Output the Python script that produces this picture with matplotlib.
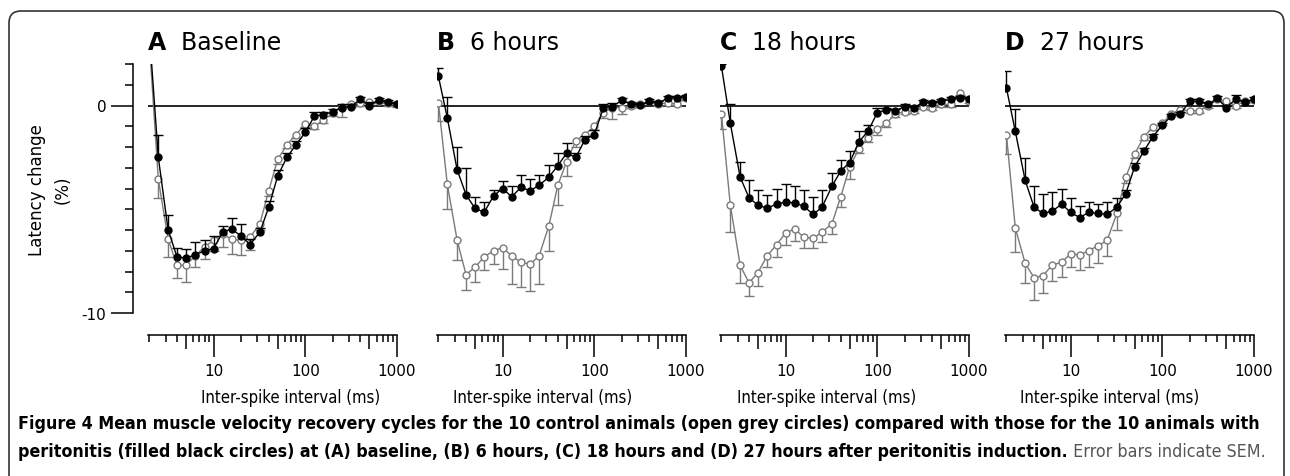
import numpy as np
import matplotlib
matplotlib.use("Agg")
import matplotlib.pyplot as plt
from matplotlib import font_manager
from matplotlib.font_manager import FontProperties
from matplotlib.patches import FancyBboxPatch
from matplotlib.transforms import IdentityTransform
from matplotlib.ticker import FixedLocator, NullFormatter

# inter-spike intervals (ms), about 10 per decade
intervals = [2, 2.5, 3.2, 4, 5, 6.3, 8, 10, 12.6, 15.8, 20, 25, 32, 40, 50,
             63, 79, 100, 126, 158, 200, 251, 316, 398, 500, 631, 794, 1000]

panel_letters = ["A", "B", "C", "D"]
panel_titles = ["Baseline", "6 hours", "18 hours", "27 hours"]

# peritonitis animals (filled black), mean and SEM, latency change %
perit_A = [3.5, -2.5, -6.0, -7.3, -7.35, -7.2, -7.0, -6.9, -6.1, -5.95, -6.3, -6.7, -6.1, -4.9,
           -3.4, -2.5, -1.9, -1.3, -0.5, -0.45, -0.3, -0.1, -0.05, 0.3, 0.0, 0.25, 0.15, 0.05]
perit_A_sem = [0.3, 1.1, 0.7, 0.45, 0.45, 0.6, 0.5, 0.6, 0.3, 0.55, 0.6, 0.25, 0.2, 0.3,
               0.3, 0.2, 0.2, 0.2, 0.2, 0.15, 0.15, 0.15, 0.1, 0.1, 0.15, 0.1, 0.1, 0.1]
perit_B = [1.4, -0.6, -3.1, -4.3, -4.95, -5.15, -4.35, -4.0, -4.4, -3.95, -4.1, -3.85, -3.45, -2.9,
           -2.3, -2.5, -1.65, -1.4, -0.1, -0.05, 0.25, 0.08, 0.02, 0.2, 0.12, 0.35, 0.38, 0.4]
perit_B_sem = [0.4, 1.0, 1.1, 1.3, 0.55, 0.5, 0.3, 0.35, 0.5, 0.6, 0.55, 0.5, 0.6, 0.6,
               0.5, 0.2, 0.2, 0.2, 0.15, 0.15, 0.1, 0.1, 0.1, 0.1, 0.1, 0.1, 0.1, 0.1]
perit_C = [1.9, -0.85, -3.45, -4.45, -4.8, -4.95, -4.75, -4.65, -4.7, -4.85, -5.25, -4.9, -3.9, -3.15,
           -2.75, -1.75, -1.25, -0.35, -0.2, -0.25, -0.05, -0.1, 0.15, 0.1, 0.2, 0.3, 0.35, 0.3]
perit_C_sem = [0.1, 0.9, 0.75, 0.85, 0.75, 0.65, 0.75, 0.85, 0.8, 0.8, 0.85, 0.85, 0.65, 0.5,
               0.55, 0.5, 0.3, 0.25, 0.1, 0.1, 0.1, 0.1, 0.1, 0.1, 0.1, 0.1, 0.1, 0.1]
perit_D = [0.85, -1.25, -3.6, -4.9, -5.2, -5.1, -4.75, -5.15, -5.4, -5.15, -5.2, -5.25, -4.9, -4.25,
           -2.95, -2.2, -1.5, -0.95, -0.5, -0.4, 0.2, 0.2, 0.05, 0.35, -0.1, 0.3, 0.15, 0.3]
perit_D_sem = [0.8, 1.1, 1.05, 1.0, 0.95, 0.95, 0.75, 0.7, 0.55, 0.5, 0.45, 0.6, 0.45, 0.2,
               0.2, 0.15, 0.15, 0.1, 0.1, 0.1, 0.1, 0.1, 0.1, 0.1, 0.1, 0.2, 0.1, 0.1]

# control animals (open grey), mean and SEM
ctrl_A = [3.0, -3.55, -6.45, -7.7, -7.7, -7.25, -6.8, -6.5, -6.2, -6.45, -6.5, -6.35, -5.7, -4.1,
          -2.6, -1.9, -1.4, -0.9, -1.0, -0.7, -0.35, -0.05, 0.05, 0.1, 0.15, 0.2, 0.1, 0.05]
ctrl_A_sem = [0.3, 0.9, 0.85, 0.6, 0.8, 0.55, 0.6, 0.5, 0.6, 0.7, 0.7, 0.6, 0.3, 0.25,
              0.2, 0.15, 0.15, 0.15, 0.15, 0.15, 0.15, 0.5, 0.1, 0.1, 0.1, 0.1, 0.1, 0.1]
ctrl_B = [0.13, -3.8, -6.5, -8.15, -7.8, -7.3, -7.0, -6.85, -7.25, -7.55, -7.65, -7.25, -5.8, -3.85,
          -2.7, -1.7, -1.4, -1.0, -0.35, -0.1, -0.1, -0.03, 0.05, 0.2, 0.08, 0.13, 0.08, 0.35]
ctrl_B_sem = [0.9, 1.2, 0.95, 0.75, 0.7, 0.65, 0.65, 1.05, 1.35, 1.2, 1.3, 1.35, 1.2, 0.95,
              0.7, 0.3, 0.2, 0.2, 0.25, 0.55, 0.3, 0.1, 0.1, 0.1, 0.1, 0.1, 0.1, 0.1]
ctrl_C = [-0.4, -4.8, -7.7, -8.55, -8.05, -7.25, -6.7, -6.15, -5.95, -6.35, -6.4, -6.1, -5.7, -4.4,
          -2.95, -2.1, -1.55, -1.15, -0.85, -0.4, -0.3, -0.25, -0.05, -0.1, 0.05, 0.05, 0.6, 0.2]
ctrl_C_sem = [0.75, 1.3, 0.85, 0.65, 0.65, 0.55, 0.6, 0.55, 0.6, 0.5, 0.45, 0.5, 0.5, 0.5,
              0.6, 0.2, 0.2, 0.25, 0.2, 0.15, 0.1, 0.1, 0.1, 0.1, 0.1, 0.1, 0.1, 0.1]
ctrl_D = [-1.4, -5.9, -7.6, -8.3, -8.2, -7.7, -7.55, -7.15, -7.2, -7.0, -6.75, -6.5, -5.2, -3.45,
          -2.35, -1.5, -1.05, -0.85, -0.4, -0.2, -0.25, -0.25, 0.0, 0.3, 0.2, 0.0, 0.2, 0.25]
ctrl_D_sem = [0.95, 1.15, 0.95, 1.05, 0.85, 0.75, 0.7, 0.65, 0.75, 0.8, 0.85, 0.75, 0.8, 0.3,
              0.2, 0.15, 0.15, 0.1, 0.1, 0.1, 0.1, 0.1, 0.1, 0.1, 0.1, 0.1, 0.1, 0.1]

perit = [(perit_A, perit_A_sem), (perit_B, perit_B_sem), (perit_C, perit_C_sem), (perit_D, perit_D_sem)]
ctrl = [(ctrl_A, ctrl_A_sem), (ctrl_B, ctrl_B_sem), (ctrl_C, ctrl_C_sem), (ctrl_D, ctrl_D_sem)]

caption_line1 = ("Figure 4 Mean muscle velocity recovery cycles for the 10 control animals "
                 "(open grey circles) compared with those for the 10 animals with")
caption_line2 = ("peritonitis (filled black circles) at (A) baseline, (B) 6 hours, "
                 "(C) 18 hours and (D) 27 hours after peritonitis induction.")
caption_tail = " Error bars indicate SEM."

W, H = 1290, 477
GREY = "#7a7a7a"

plt.rcParams["font.family"] = "DejaVu Sans"
fig = plt.figure(figsize=(W / 100, H / 100), dpi=100)


def find_narrow(want_bold):
    # look for an installed upright condensed / narrow sans face
    for f in font_manager.fontManager.ttflist:
        name = f.name.lower()
        stretch = str(f.stretch).lower()
        fname = f.fname.lower()
        narrow = ("narrow" in name or "condensed" in name or "condensed" in stretch
                  or "condensed" in fname or "narrow" in fname)
        if not narrow or "mono" in name or "serif" in name:
            continue
        if f.style != "normal" or "italic" in fname or "oblique" in fname:
            continue
        w = f.weight
        is_bold = (w in ("bold", "heavy", "black", "demibold", "semibold")
                   or (isinstance(w, int) and w >= 600))
        if is_bold == want_bold:
            return FontProperties(fname=f.fname)
    return None


def draw_series(ax, y, sem, color, face, up, z):
    y = np.array(y)
    sem = np.array(sem)
    ends = y + sem if up else y - sem
    ax.vlines(intervals, y, ends, color=color, lw=1.0, zorder=z)
    ax.plot(intervals, ends, ls="none", marker="_", ms=7, mew=1.0, color=color, zorder=z)
    ax.plot(intervals, y, color=color, lw=1.0, marker="o", ms=5, mfc=face, mec=color,
            mew=1.0, zorder=z + 0.5)


narrow_bold = find_narrow(True)
narrow_reg = find_narrow(False)

ax_lefts = [148, 437, 720, 1005]
label_centers = [291, 543, 827, 1110]
ax_bottom = (H - 314) / H
ax_height = (314 - 65) / H
ax_width = 249 / W

for i, left in enumerate(ax_lefts):
    ax = fig.add_axes([left / W, ax_bottom, ax_width, ax_height])
    ax.set_xscale("log")
    ax.set_xlim(1.93, 1000)
    ax.set_ylim(-10, 2)
    ax.axhline(0, color="black", lw=1.2, zorder=1)

    draw_series(ax, ctrl[i][0], ctrl[i][1], GREY, "white", False, 2)
    draw_series(ax, perit[i][0], perit[i][1], "black", "black", True, 4)

    for s in ["top", "right"]:
        ax.spines[s].set_visible(False)
    ax.spines["bottom"].set_position(("outward", 16))
    ax.spines["bottom"].set_linewidth(1.1)

    ax.xaxis.set_major_locator(FixedLocator([5, 10, 50, 100, 500, 1000]))
    ax.set_xticklabels(["", "10", "", "100", "", "1000"])
    ax.xaxis.set_minor_locator(FixedLocator([2, 3, 4, 6, 7, 8, 9, 20, 30, 40, 60, 70, 80, 90,
                                             200, 300, 400, 600, 700, 800, 900]))
    ax.xaxis.set_minor_formatter(NullFormatter())
    ax.tick_params(axis="x", which="major", length=16, width=1.1, pad=4, labelsize=11)
    ax.tick_params(axis="x", which="minor", length=5, width=1.1)
    for t, loc in zip(ax.xaxis.get_major_ticks(), [5, 10, 50, 100, 500, 1000]):
        if loc in (5, 50, 500):
            t.tick1line.set_markersize(10)

    if i == 0:
        ax.spines["left"].set_position(("outward", 11))
        ax.spines["left"].set_linewidth(1.1)
        ax.set_yticks([-10, 0])
        ax.set_yticklabels(["-10", "0"])
        ax.yaxis.set_minor_locator(FixedLocator([-9, -8, -7, -6, -5, -4, -3, -2, -1, 1, 2]))
        ax.tick_params(axis="y", which="major", length=16, width=1.1, pad=3, labelsize=11)
        ax.tick_params(axis="y", which="minor", length=6, width=1.1)
    else:
        ax.spines["left"].set_visible(False)
        ax.set_yticks([])

    # panel title: bold letter then plain text
    t1 = fig.text(left / W, 1 - 50.5 / H, panel_letters[i], fontsize=17,
                  fontweight="bold", va="baseline", ha="left")
    ax.annotate("  " + panel_titles[i], xy=(1, 0), xycoords=t1, va="bottom",
                ha="left", fontsize=17)

    if narrow_reg is not None:
        fig.text(label_centers[i] / W, 1 - 398 / H, "Inter-spike interval (ms)",
                 ha="center", va="center", fontproperties=narrow_reg, fontsize=12)
    else:
        fig.text(label_centers[i] / W, 1 - 398 / H, "Inter-spike interval (ms)",
                 ha="center", va="center", fontsize=10)

fig.text(50 / W, 1 - 190 / H, "Latency change\n(%)", rotation=90, ha="center",
         va="center", fontsize=12, linespacing=1.5, multialignment="center")

# caption, scaled to the width of the frame
if narrow_bold is not None:
    cap_bold = narrow_bold.copy()
    cap_reg = narrow_reg.copy() if narrow_reg is not None else narrow_bold.copy()
else:
    cap_bold = FontProperties(family="DejaVu Sans", weight="bold")
    cap_reg = FontProperties(family="DejaVu Sans")
cap_bold.set_size(12)
cap1 = fig.text(18 / W, 1 - 424 / H, caption_line1, fontproperties=cap_bold,
                va="center", ha="left")
renderer = fig.canvas.get_renderer()
width = cap1.get_window_extent(renderer).width
cap_size = 12 * 1244 / width
cap1.set_fontsize(cap_size)
cap_bold.set_size(cap_size)
cap_reg.set_size(cap_size)
cap2 = fig.text(18 / W, 1 - 452 / H, caption_line2, fontproperties=cap_bold,
                va="center", ha="left")
fig.axes[0].annotate(caption_tail, xy=(1, 0), xycoords=cap2, va="bottom", ha="left",
                     fontproperties=cap_reg, color="#555555")

# rounded frame around the figure
frame = FancyBboxPatch((9, -20), 1275, 465 + 20, boxstyle="round,pad=0,rounding_size=12",
                       transform=IdentityTransform(), fill=False, ec="#333333", lw=1.2)
fig.add_artist(frame)

fig.savefig("out.png", dpi=100)
